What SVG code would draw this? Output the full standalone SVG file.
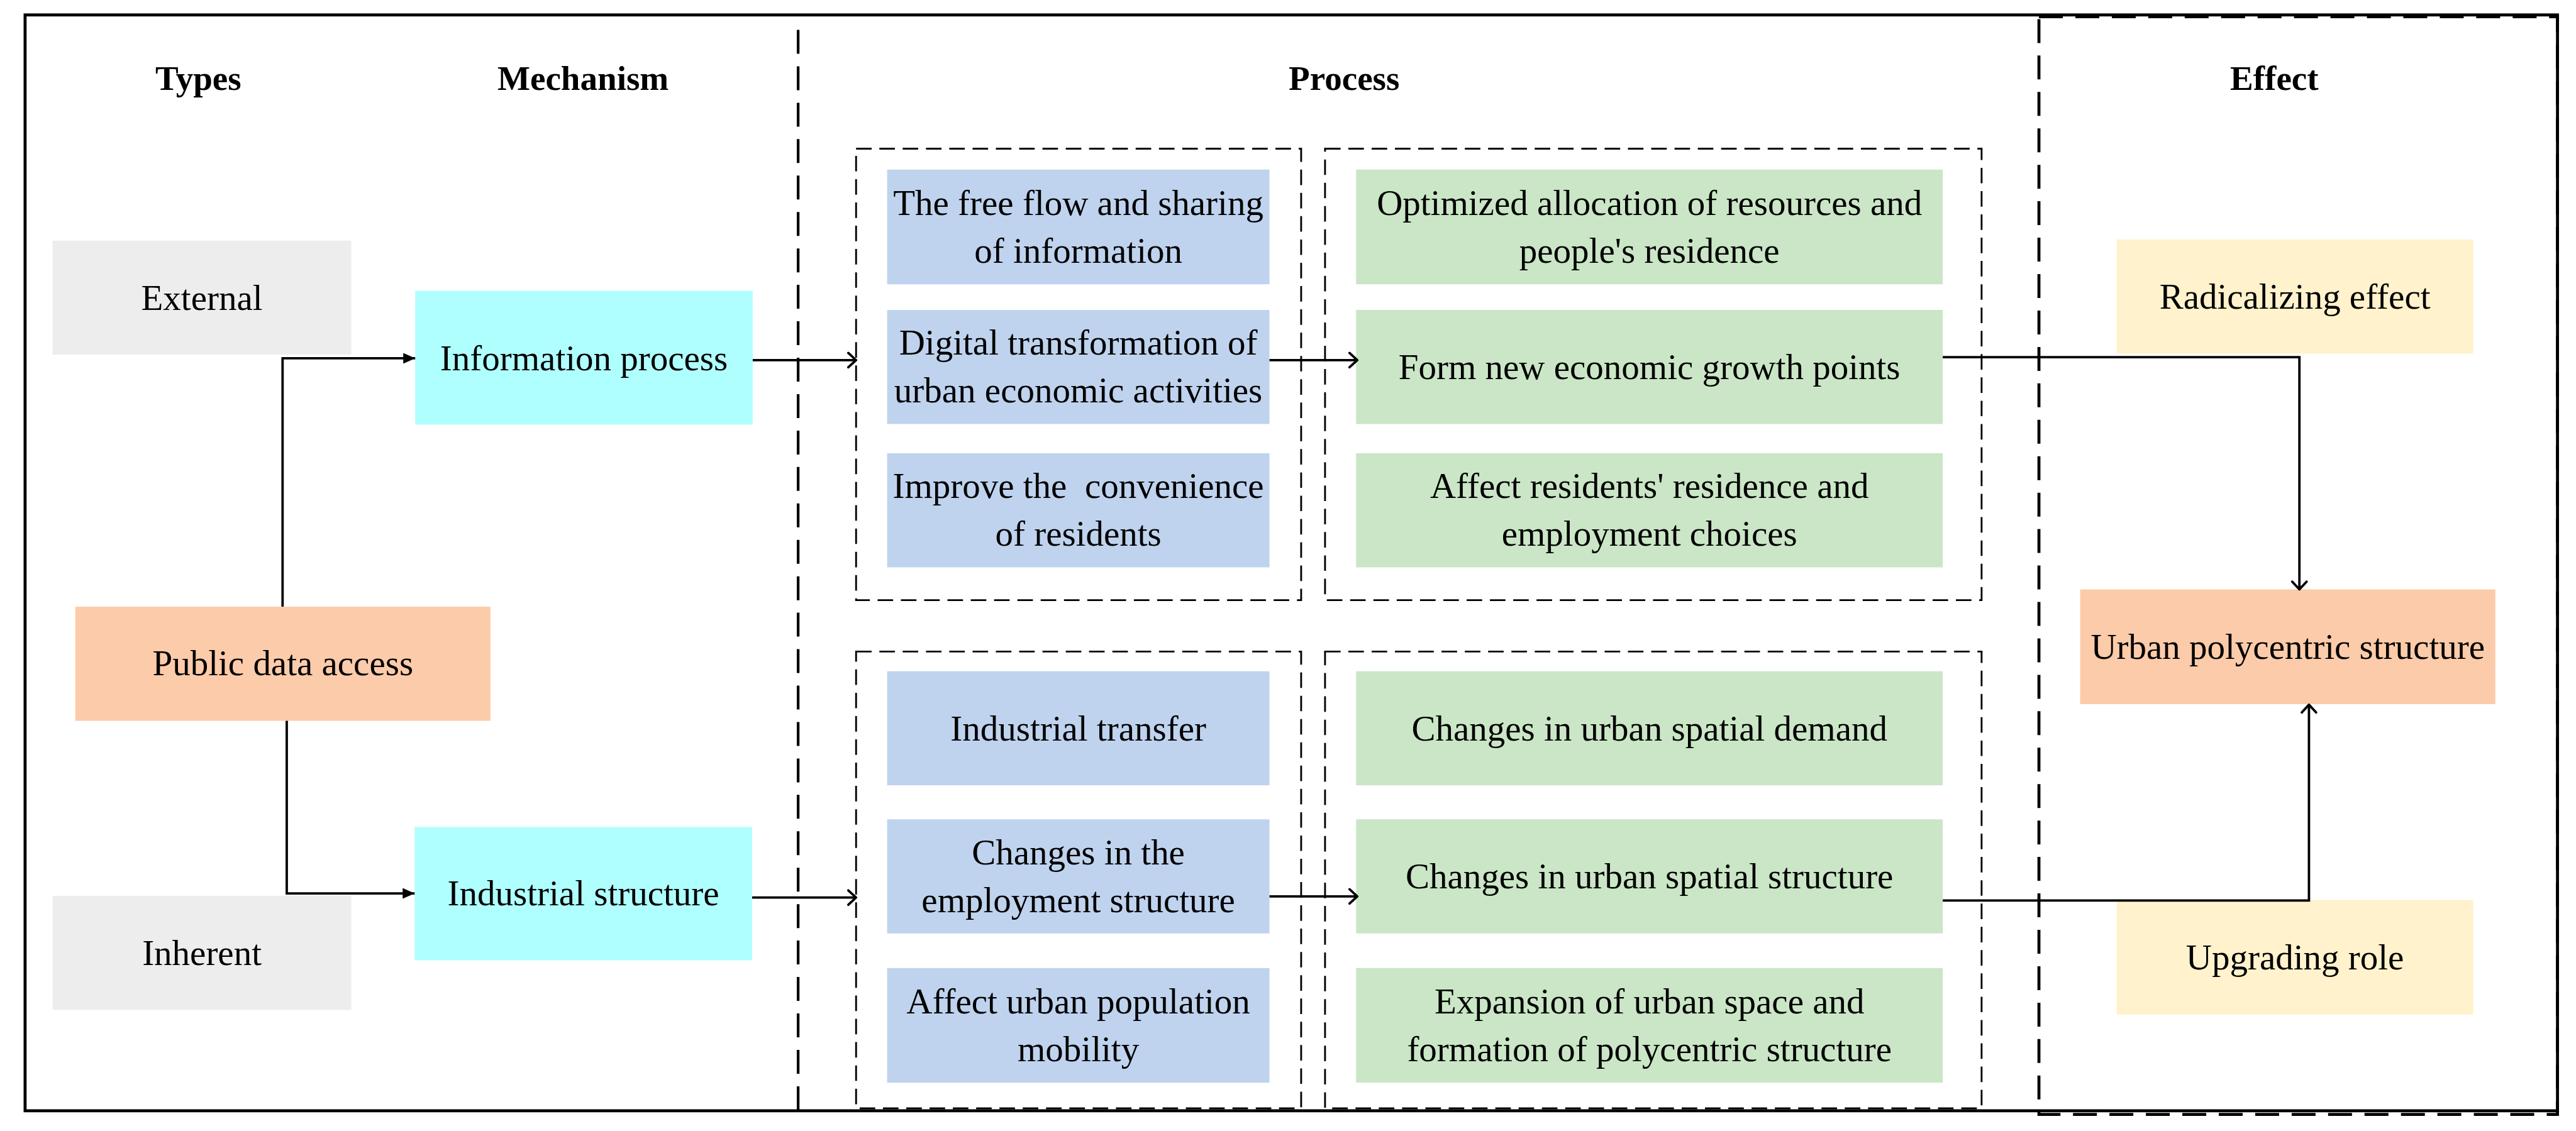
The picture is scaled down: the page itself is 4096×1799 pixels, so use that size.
<svg xmlns="http://www.w3.org/2000/svg" width="4096" height="1799" viewBox="0 0 4096 1799">
<style>
text{font-family:"Liberation Serif","Times New Roman",serif;font-size:60px;fill:#000;text-anchor:middle}
.hd{font-weight:bold;font-size:58px}
.grey{fill:#EDEDED}.cyan{fill:#B0FFFF}.peach{fill:#FCCBAA}.blue{fill:#BFD3EE}.green{fill:#CAE6C6}.yellow{fill:#FFF2CC}
.grp{fill:none;stroke:#000;stroke-width:3;stroke-dasharray:26 13}
.conn{fill:none;stroke:#000;stroke-width:4}
</style>
<defs>
<marker id="tri" markerUnits="userSpaceOnUse" markerWidth="20" markerHeight="18" refX="20" refY="9" orient="auto">
<path d="M0,0 L20,9 L0,18 z" fill="#000"/>
</marker>
<marker id="chev" markerUnits="userSpaceOnUse" markerWidth="22" markerHeight="30" refX="17" refY="15" orient="auto">
<path d="M4,3 L17,15 L4,27" fill="none" stroke="#000" stroke-width="4" stroke-linecap="round" stroke-linejoin="round"/>
</marker>
</defs>
<rect width="4096" height="1799" fill="#fff"/>
<g transform="scale(0.94991)">
<g id="frame">
<rect x="3413" y="28" width="868" height="1838" fill="none" stroke="#000" stroke-width="5" stroke-dasharray="40 21"/>
<rect x="42" y="25" width="4239" height="1835" fill="none" stroke="#000" stroke-width="5"/>
<line x1="1336" y1="29" x2="1336" y2="1860" stroke="#000" stroke-width="4.5" stroke-dasharray="40 21" stroke-dashoffset="40"/>
<rect class="grp" x="1433" y="249" width="745" height="756"/>
<rect class="grp" x="2218" y="249" width="1099" height="756"/>
<rect class="grp" x="1433" y="1091" width="745" height="765"/>
<rect class="grp" x="2218" y="1091" width="1099" height="765"/>
</g>
<g id="headers">
<text class="hd" x="332" y="151">Types</text>
<text class="hd" x="976" y="151">Mechanism</text>
<text class="hd" x="2250" y="151">Process</text>
<text class="hd" x="3807" y="151">Effect</text>
</g>
<g id="external"><rect class="grey" x="88" y="403" width="500" height="191"/><text x="338" y="519">External</text></g>
<g id="inherent"><rect class="grey" x="88" y="1500" width="500" height="191"/><text x="338" y="1616">Inherent</text></g>
<g id="public-data"><rect class="peach" x="126" y="1016" width="695" height="191"/><text x="473.5" y="1131">Public data access</text></g>
<g id="info-process"><rect class="cyan" x="695" y="487" width="565" height="224"/><text x="977.5" y="620">Information process</text></g>
<g id="industrial-structure"><rect class="cyan" x="694" y="1385" width="565" height="223"/><text x="976.5" y="1516">Industrial structure</text></g>

<g id="b1"><rect class="blue" x="1485" y="284" width="640" height="192"/><text x="1805" y="360">The free flow and sharing</text><text x="1805" y="440">of information</text></g>
<g id="b2"><rect class="blue" x="1485" y="519" width="640" height="191"/><text x="1805" y="594">Digital transformation of</text><text x="1805" y="674">urban economic activities</text></g>
<g id="b3"><rect class="blue" x="1485" y="759" width="640" height="191"/><text x="1805" y="834" xml:space="preserve">Improve the  convenience</text><text x="1805" y="914">of residents</text></g>
<g id="g1"><rect class="green" x="2270" y="284" width="982" height="192"/><text x="2761" y="360">Optimized allocation of resources and</text><text x="2761" y="440">people's residence</text></g>
<g id="g2"><rect class="green" x="2270" y="519" width="982" height="191"/><text x="2761" y="635">Form new economic growth points</text></g>
<g id="g3"><rect class="green" x="2270" y="759" width="982" height="191"/><text x="2761" y="834">Affect residents' residence and</text><text x="2761" y="914">employment choices</text></g>

<g id="b4"><rect class="blue" x="1485" y="1124" width="640" height="191"/><text x="1805" y="1240">Industrial transfer</text></g>
<g id="b5"><rect class="blue" x="1485" y="1372" width="640" height="191"/><text x="1805" y="1447">Changes in the</text><text x="1805" y="1527">employment structure</text></g>
<g id="b6"><rect class="blue" x="1485" y="1621" width="640" height="192"/><text x="1805" y="1697">Affect urban population</text><text x="1805" y="1777">mobility</text></g>
<g id="g4"><rect class="green" x="2270" y="1124" width="982" height="191"/><text x="2761" y="1240">Changes in urban spatial demand</text></g>
<g id="g5"><rect class="green" x="2270" y="1372" width="982" height="191"/><text x="2761" y="1488">Changes in urban spatial structure</text></g>
<g id="g6"><rect class="green" x="2270" y="1621" width="982" height="192"/><text x="2761" y="1697">Expansion of urban space and</text><text x="2761" y="1777">formation of polycentric structure</text></g>

<g id="radicalizing"><rect class="yellow" x="3543" y="401" width="597" height="191"/><text x="3841.5" y="517">Radicalizing effect</text></g>
<g id="upgrading"><rect class="yellow" x="3543" y="1507" width="597" height="192"/><text x="3841.5" y="1623">Upgrading role</text></g>
<g id="urban-poly"><rect class="peach" x="3482" y="987" width="695" height="192"/><text x="3829.5" y="1103">Urban polycentric structure</text></g>

<g id="connectors">
<path class="conn" d="M473,1016 V600 H695" marker-end="url(#tri)"/>
<path class="conn" d="M480,1207 V1496 H694" marker-end="url(#tri)"/>
<path class="conn" d="M1260,603 H1433" marker-end="url(#chev)"/>
<path class="conn" d="M2125,603 H2272" marker-end="url(#chev)"/>
<path class="conn" d="M3252,598 H3849 V987" marker-end="url(#chev)"/>
<path class="conn" d="M1259,1503 H1433" marker-end="url(#chev)"/>
<path class="conn" d="M2125,1501 H2272" marker-end="url(#chev)"/>
<path class="conn" d="M3252,1508 H3865 V1180" marker-end="url(#chev)"/>
</g>
</g>
</svg>
